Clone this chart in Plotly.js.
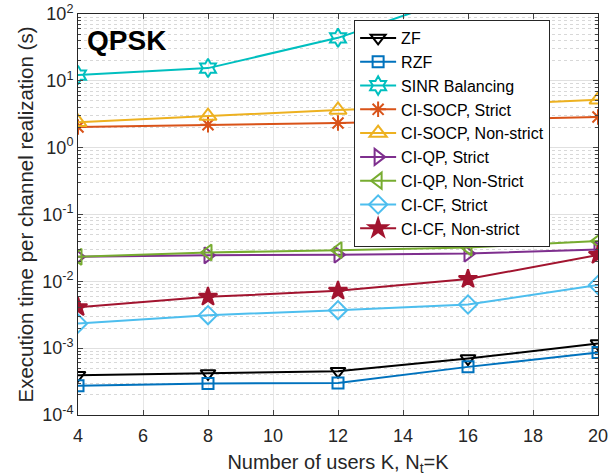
<!DOCTYPE html>
<html><head><meta charset="utf-8">
<script src="https://cdn.plot.ly/plotly-3.0.1.min.js"></script>
<style>body{margin:0;padding:0;background:#fff}#plot{width:615px;height:476px}</style>
</head><body><div id="plot"></div>
<script>
const users = [4, 8, 12, 16, 20];
const seriesNames = ["ZF", "RZF", "SINR Balancing", "CI-SOCP, Strict", "CI-SOCP, Non-strict", "CI-QP, Strict", "CI-QP, Non-Strict", "CI-CF, Strict", "CI-CF, Non-strict"];
const zf = [0.000394, 0.000418, 0.000453, 0.0007, 0.00117];
const rzf = [0.000273, 0.000296, 0.0003, 0.000525, 0.000863];
const sinrBalancing = [12.2, 15.5, 44, 200, 500];
const ciSocpStrict = [2.04, 2.2, 2.34, 2.6, 2.88];
const ciSocpNonStrict = [2.4, 2.97, 3.66, 4.3, 5.2];
const ciQpStrict = [0.0233, 0.0245, 0.025, 0.026, 0.030];
const ciQpNonStrict = [0.0233, 0.027, 0.0293, 0.032, 0.040];
const ciCfStrict = [0.00234, 0.00312, 0.0037, 0.0045, 0.0088];
const ciCfNonStrict = [0.0041, 0.00586, 0.0072, 0.0108, 0.0247];
const yTickVals = [1e-4, 1e-3, 1e-2, 1e-1, 1, 10, 100];
const yTickText = ["10<sup>-4</sup>", "10<sup>-3</sup>", "10<sup>-2</sup>", "10<sup>-1</sup>", "10<sup>0</sup>", "10<sup>1</sup>", "10<sup>2</sup>"];
const xTickVals = [4, 6, 8, 10, 12, 14, 16, 18, 20];

const values = [zf, rzf, sinrBalancing, ciSocpStrict, ciSocpNonStrict, ciQpStrict, ciQpNonStrict, ciCfStrict, ciCfNonStrict];
const colors = ["#000000", "#0072BD", "#00BFBF", "#D95319", "#EDB120", "#7E2F8E", "#77AC30", "#4DBEEE", "#A2142F"];
const symbols = ["triangle-down-open", "square-open", "hexagram-open", "asterisk-open", "triangle-up-open", "triangle-right-open", "triangle-left-open", "diamond-open", "star"];
const sizes = [13, 11, 14, 13, 15, 14, 14, 14, 14];

const traces = values.map((v, i) => ({
  x: users, y: v, name: seriesNames[i], type: "scatter", mode: "lines+markers",
  line: {color: colors[i], width: 2},
  marker: {symbol: symbols[i], size: sizes[i], color: colors[i], line: {color: colors[i], width: 2}},
  cliponaxis: true
}));

const layout = {
  width: 615, height: 476,
  margin: {l: 78, r: 17, t: 14, b: 61},
  paper_bgcolor: "#fff", plot_bgcolor: "#fff",
  font: {family: "Liberation Sans, Arial, sans-serif", size: 18, color: "#262626"},
  showlegend: true,
  legend: {x: 0.531, y: 0.985, xanchor: "left", yanchor: "top", bgcolor: "#fff",
    bordercolor: "#262626", borderwidth: 1, font: {size: 16, color: "#000"}, tracegroupgap: 0, itemwidth: 36},
  xaxis: {range: [4, 20], tickvals: xTickVals, ticks: "inside", ticklen: 5, ticklabelstandoff: 4,
    showline: true, linecolor: "#262626", linewidth: 1, mirror: "ticks",
    showgrid: true, gridcolor: "#e6e6e6", zeroline: false, tickfont: {size: 18},
    title: {text: "Number of users K, N<sub>t</sub>=K", font: {size: 20, color: "#262626"}, standoff: 10}},
  yaxis: {type: "log", range: [-4, 2], tickvals: yTickVals, ticktext: yTickText, ticks: "inside", ticklen: 5,
    showline: true, linecolor: "#262626", linewidth: 1, mirror: "ticks",
    showgrid: true, gridcolor: "#e0e0e0", zeroline: false, tickfont: {size: 18},
    minor: {dtick: "D1", ticks: "inside", ticklen: 3, showgrid: true, gridcolor: "#d8d8d8", griddash: "dot"},
    title: {text: "Execution time per channel realization (s)", font: {size: 20.5, color: "#262626"}, standoff: 2}},
  annotations: [{text: "<b>QPSK</b>", xref: "paper", yref: "paper", x: 0.014, y: 0.935, xanchor: "left", yanchor: "middle",
    showarrow: false, font: {size: 28, color: "#000"}}]
};
Plotly.newPlot("plot", traces, layout, {staticPlot: true});
</script></body></html>
